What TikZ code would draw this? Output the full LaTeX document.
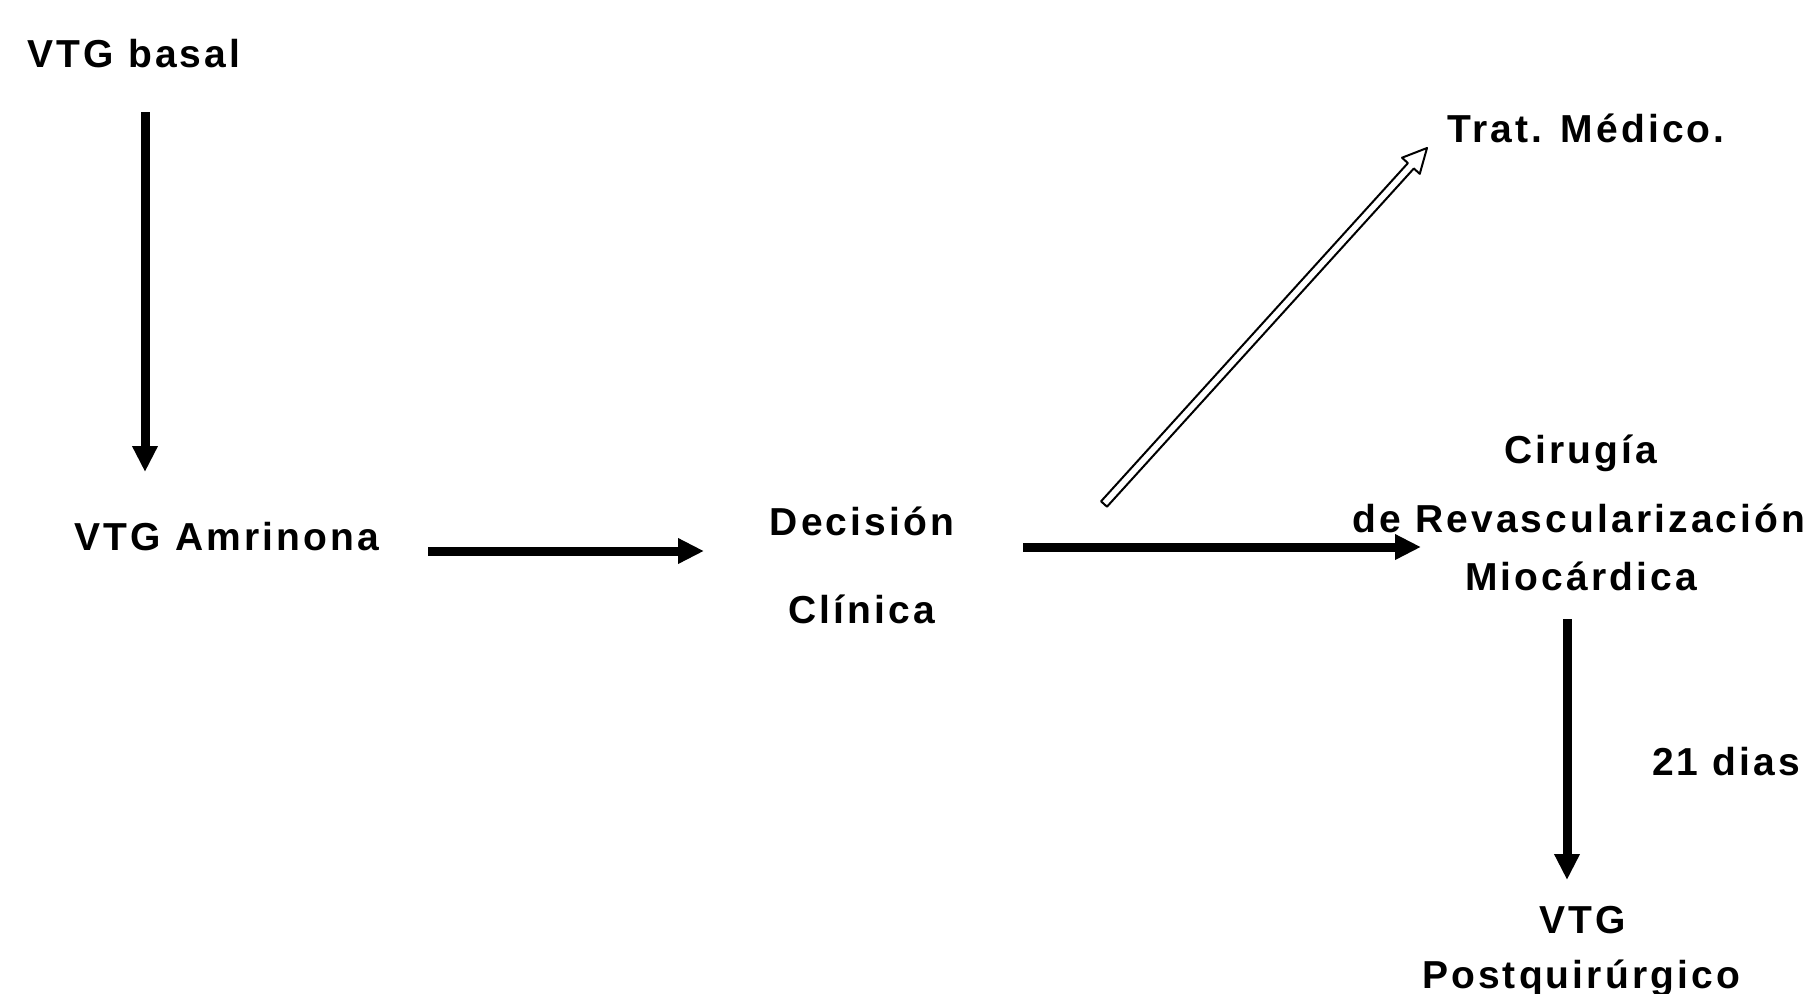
\documentclass[tikz,border=0pt]{standalone}
\usepackage{fontspec}
\newfontfamily\lab{Liberation Sans}[LetterSpace=8]
\usetikzlibrary{arrows.meta,calc}
\begin{document}
\begin{tikzpicture}[x=0.5pt,y=-0.5pt,
  lbl/.style={font=\lab\bfseries\fontsize{19.5}{23}\selectfont, inner sep=0pt, anchor=base},
  arr/.style={line width=4.5pt, -{Triangle[length=13pt,width=12pt]}},
  hollow/.style={line width=1pt, fill=white, line join=round},
]
\useasboundingbox (0,0) rectangle (1815,993);
% texts
\node[lbl] (basal) at (134,67) {VTG basal};
\node[lbl] (amr) at (227,550) {VTG Amrinona};
\node[lbl] (dec1) at (862,535) {Decisión};
\node[lbl] (dec2) at (862,623) {Clínica};
\node[lbl] (trat) at (1586,142) {Trat. Médico.};
\node[lbl] (cir1) at (1581,463) {Cirugía};
\node[lbl] (cir2) at (1579,532) {de Revascularización};
\node[lbl] (cir3) at (1581,590) {Miocárdica};
\node[lbl] (dias) at (1726,775) {21 dias};
\node[lbl] (post1) at (1583,933) {VTG};
\node[lbl] (post2) at (1581,988) {Postquirúrgico};
% connector end points
\coordinate (a1s) at (145,112); \coordinate (a1e) at (145,472);
\coordinate (a2s) at (428,551); \coordinate (a2e) at (704,551);
\coordinate (a3s) at (1023,547); \coordinate (a3e) at (1421,547);
\coordinate (a4s) at (1567,619); \coordinate (a4e) at (1567,880);
\coordinate (hs) at (1104,504); \coordinate (he) at (1427,148);
% solid arrows
\draw[arr] (a1s) -- (a1e);
\draw[arr] (a2s) -- (a2e);
\draw[arr] (a3s) -- (a3e);
\draw[arr] (a4s) -- (a4e);
% hollow arrow
\coordinate (hb) at ($(he)!12pt!(hs)$);
\draw[hollow]
  ($(hs)!2pt!90:(he)$) -- ($(hb)!2pt!90:(he)$) -- ($(hb)!6pt!90:(he)$) -- (he)
  -- ($(hb)!6pt!-90:(he)$) -- ($(hb)!2pt!-90:(he)$) -- ($(hs)!2pt!-90:(he)$) -- cycle;
\end{tikzpicture}
\end{document}
